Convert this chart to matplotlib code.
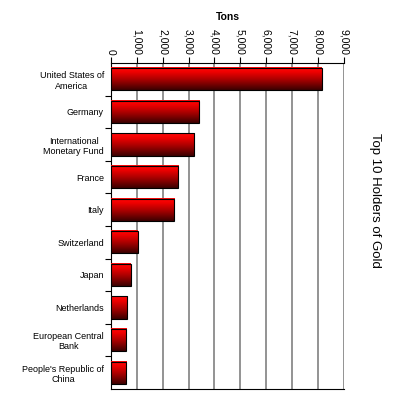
import matplotlib
matplotlib.use("Agg")
import matplotlib.pyplot as plt
import numpy as np
from matplotlib.colors import LinearSegmentedColormap
from matplotlib.patches import Rectangle
from matplotlib.ticker import FuncFormatter, MultipleLocator

plt.rcParams["font.family"] = ["Liberation Sans", "DejaVu Sans"]

holders = ["United States of\nAmerica", "Germany", "International\nMonetary Fund",
           "France", "Italy", "Switzerland", "Japan", "Netherlands",
           "European Central\nBank", "People's Republic of\nChina"]
tons = [8134, 3413, 3217, 2610, 2452, 1040, 765, 620, 600, 600]

# dark maroon at the bottom of each bar, bright red at the top
RED = LinearSegmentedColormap.from_list(
    "red", [(0, "#3c0000"), (0.45, "#a80000"), (0.8, "#f00000"), (1, "#ff0a0a")])

fig = plt.figure(figsize=(3.99, 4.0), dpi=100)
ax = fig.add_axes([0.278, 0.0275, 0.584, 0.815])

h = 0.68
grad = np.linspace(0, 1, 64).reshape(-1, 1)
for i, v in enumerate(tons):
    ax.imshow(grad, cmap=RED, aspect="auto",
              extent=[0, v, i + h / 2, i - h / 2], origin="lower", zorder=3)
    ax.add_patch(Rectangle((0, i - h / 2), v, h, fill=False, edgecolor="black",
                           linewidth=0.8, zorder=4))

ax.set_xlim(0, 9000)
ax.set_ylim(9.5, -0.5)
ax.set_aspect("auto")

ax.xaxis.set_major_locator(MultipleLocator(1000))
ax.xaxis.set_major_formatter(FuncFormatter(lambda x, _: f"{int(x):,}"))
ax.xaxis.tick_top()
ax.xaxis.set_label_position("top")
ax.tick_params(axis="x", labelsize=7.5, length=4, width=0.8, pad=2, labelrotation=-90)
ax.set_xlabel("Tons", fontsize=7.5, fontweight="bold", labelpad=6)
ax.grid(axis="x", color="#808080", linewidth=1.2, zorder=0)
ax.set_axisbelow(True)

ax.set_yticks(range(len(holders)))
ax.set_yticklabels(holders, fontsize=6.5, multialignment="center")
ax.set_yticks(np.arange(0.5, len(holders) - 0.5, 1), minor=True)
ax.tick_params(axis="y", which="major", length=0, pad=5)
ax.tick_params(axis="y", which="minor", length=4, width=0.8)

for s in ["top", "left", "bottom"]:
    ax.spines[s].set_linewidth(0.8)
ax.spines["right"].set_visible(False)

fig.text(0.94, 0.5, "Top 10 Holders of Gold", rotation=-90, fontsize=9.5,
         ha="center", va="center")

fig.savefig("out.png", dpi=100)
